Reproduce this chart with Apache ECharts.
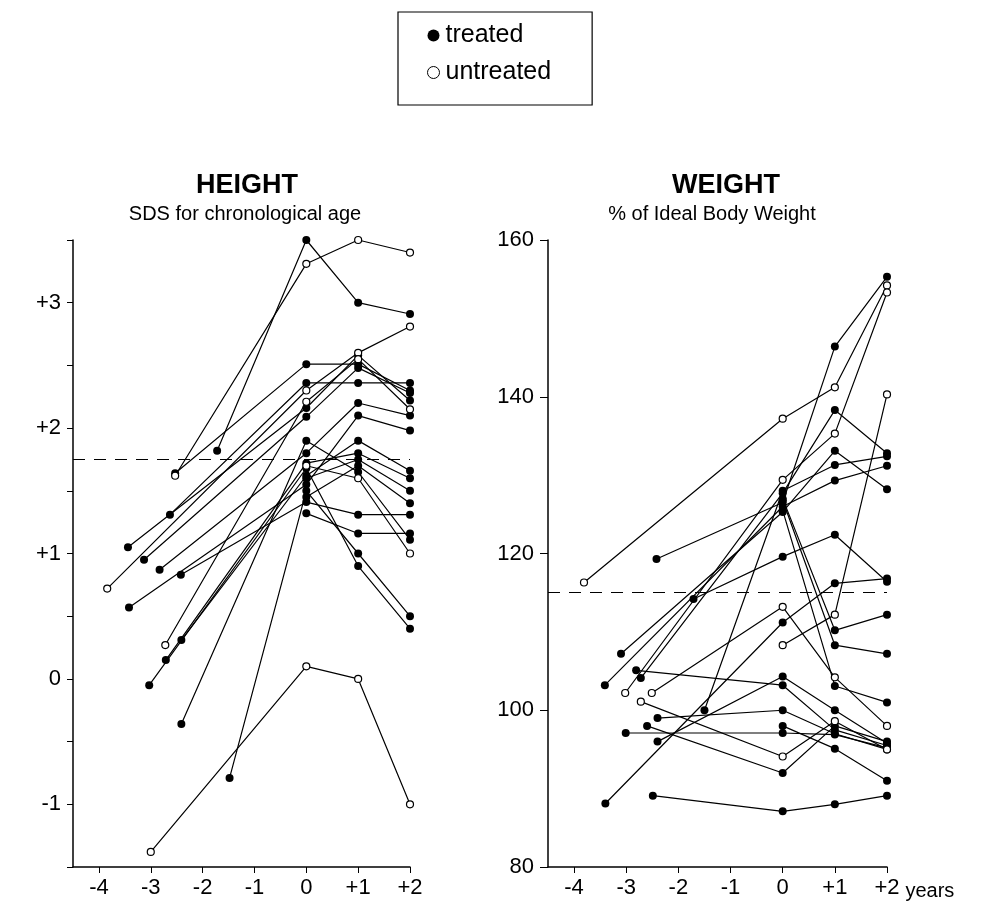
<!DOCTYPE html>
<html>
<head>
<meta charset="utf-8">
<script src="https://cdn.jsdelivr.net/npm/echarts@6/dist/echarts.min.js"></script>
<style>
  html, body { margin: 0; padding: 0; background: #fff; }
  #chart { width: 992px; height: 920px; }
</style>
</head>
<body>
<div id="chart"></div>
<script>
// years relative to start, one list of [year, value] per child
var xTicks = [-4, -3, -2, -1, 0, 1, 2];
var heightTicks = [-1, 0, 1, 2, 3];
var weightTicks = [80, 100, 120, 140, 160];
var heightCut = 1.75;
var weightCut = 115;

// HEIGHT, SDS for chronological age
var heightTreated = [
  [[-1.72, 1.82], [0, 3.50], [1, 3.00], [2, 2.91]],
  [[-2.53, 1.64], [0, 2.51], [1, 2.51], [2, 2.30]],
  [[-2.63, 1.31], [0, 2.36], [1, 2.36], [2, 2.36]],
  [[-3.44, 1.05], [0, 2.16], [1, 2.58], [2, 2.22]],
  [[-3.13, 0.95], [0, 2.09], [1, 2.48], [2, 2.28]],
  [[-2.83, 0.87], [0, 1.80], [1, 2.20], [2, 2.10]],
  [[-2.42, 0.83], [0, 1.41], [1, 1.31], [2, 1.31]],
  [[-3.42, 0.57], [0, 1.55], [1, 2.10], [2, 1.98]],
  [[-2.41, 0.31], [0, 1.62], [1, 1.90], [2, 1.66]],
  [[-2.71, 0.15], [0, 1.72], [1, 1.80], [2, 1.60]],
  [[-3.03, -0.05], [0, 1.68], [1, 0.90], [2, 0.40]],
  [[-2.41, -0.36], [0, 1.90], [1, 1.65], [2, 1.11]],
  [[-1.48, -0.79], [0, 1.50], [1, 1.00], [2, 0.50]],
  [[0, 1.32], [1, 1.16], [2, 1.16]],
  [[0, 1.60], [1, 1.75], [2, 1.50]],
  [[0, 1.45], [1, 1.70], [2, 1.40]]
];
var heightUntreated = [
  [[-2.53, 1.62], [0, 3.31], [1, 3.50], [2, 3.40]],
  [[-3.84, 0.72], [0, 2.30], [1, 2.60], [2, 2.81]],
  [[-2.72, 0.27], [0, 2.21], [1, 2.55], [2, 2.15]],
  [[0, 1.70], [1, 1.60], [2, 1.00]],
  [[-3.00, -1.38], [0, 0.10], [1, 0.00], [2, -1.00]]
];

// WEIGHT, % of ideal body weight
var weightTreated = [
  [[-2.49, 89.1], [0, 87.1], [1, 88.0], [2, 89.1]],
  [[-3.40, 88.1], [0, 111.2], [1, 116.2], [2, 116.8]],
  [[-1.71, 114.2], [0, 119.6], [1, 122.4], [2, 116.4]],
  [[-2.42, 119.3], [0, 126.5], [1, 146.4], [2, 155.3]],
  [[-3.10, 107.2], [0, 125.3], [1, 133.1], [2, 128.2]],
  [[-2.72, 104.1], [0, 127.7], [1, 138.3], [2, 132.8]],
  [[-1.50, 100.0], [0, 128.0], [1, 131.3], [2, 132.4]],
  [[-3.41, 103.2], [0, 126.0], [1, 129.3], [2, 131.2]],
  [[-2.81, 105.1], [0, 103.2], [1, 97.5], [2, 95.5]],
  [[-2.40, 99.0], [0, 100.0], [1, 97.0], [2, 95.0]],
  [[-2.60, 98.0], [0, 92.0], [1, 98.0], [2, 96.0]],
  [[-3.01, 97.1], [0, 97.1], [1, 96.9], [2, 95.2]],
  [[-2.40, 96.0], [0, 104.3], [1, 100.0], [2, 95.8]],
  [[0, 98.0], [1, 95.1], [2, 91.0]],
  [[0, 127.0], [1, 110.2], [2, 112.2]],
  [[0, 125.5], [1, 103.1], [2, 101.0]],
  [[0, 126.8], [1, 108.3], [2, 107.2]]
];
var weightUntreated = [
  [[-3.81, 116.3], [0, 137.2], [1, 141.2], [2, 154.2]],
  [[-3.02, 102.2], [0, 129.4], [1, 135.3], [2, 153.3]],
  [[-2.51, 102.2], [0, 113.2], [1, 104.2], [2, 98.0]],
  [[-2.72, 101.1], [0, 94.1], [1, 98.6], [2, 95.0]],
  [[0, 108.3], [1, 112.2], [2, 140.3]]
];

var font = "'Liberation Sans', Arial, sans-serif";
var halfSteps = [];
for (var h = -1.5; h <= 3.5; h += 0.5) halfSteps.push(h);

function signed(v) {
  return v > 0 ? '+' + v : String(v);
}

function makeSeries(list, treated, axis) {
  return list.map(function (pts) {
    return {
      name: treated ? 'treated' : 'untreated',
      type: 'line',
      xAxisIndex: axis,
      yAxisIndex: axis,
      data: pts,
      symbol: 'circle',
      symbolSize: treated ? 8 : 7,
      z: treated ? 3 : 4,
      itemStyle: treated
        ? { color: '#000' }
        : { color: '#fff', borderColor: '#000', borderWidth: 1.2 },
      lineStyle: { color: '#000', width: 1.2 },
      emphasis: { disabled: true }
    };
  });
}

function cutLine(axis, value) {
  return {
    name: 'cut' + axis,
    type: 'line',
    xAxisIndex: axis,
    yAxisIndex: axis,
    data: [],
    markLine: {
      silent: true,
      symbol: 'none',
      label: { show: false },
      lineStyle: { color: '#000', width: 1.2, type: [12, 9] },
      data: [{ yAxis: value }]
    }
  };
}

var xAxisBase = {
  type: 'value',
  min: -4.5,
  max: 2,
  splitLine: { show: false },
  axisLine: { onZero: false, lineStyle: { color: '#000', width: 1.5 } },
  axisTick: { customValues: xTicks, length: 6, lineStyle: { color: '#000' } },
  axisLabel: {
    customValues: xTicks,
    formatter: signed,
    color: '#000',
    fontSize: 22,
    fontFamily: font,
    margin: 10
  }
};

var chart = echarts.init(document.getElementById('chart'));
var option = {
  animation: false,
  backgroundColor: '#fff',
  title: [
    { text: 'HEIGHT', left: 242, top: 167, textAlign: 'center',
      textStyle: { fontSize: 27, fontWeight: 'bold', color: '#000', fontFamily: font } },
    { text: 'SDS for chronological age', left: 240, top: 199, textAlign: 'center',
      textStyle: { fontSize: 20, fontWeight: 'normal', color: '#000', fontFamily: font } },
    { text: 'WEIGHT', left: 721, top: 167, textAlign: 'center',
      textStyle: { fontSize: 27, fontWeight: 'bold', color: '#000', fontFamily: font } },
    { text: '% of Ideal Body Weight', left: 707, top: 199, textAlign: 'center',
      textStyle: { fontSize: 20, fontWeight: 'normal', color: '#000', fontFamily: font } }
  ],
  legend: {
    orient: 'vertical',
    left: 398,
    top: 12,
    padding: [11, 41, 20, 29],
    itemGap: 12,
    itemWidth: 12,
    itemHeight: 12,
    icon: 'circle',
    borderColor: '#000',
    borderWidth: 1.2,
    textStyle: { fontSize: 25, color: '#000', fontFamily: font, padding: [0, 0, 0, 1] },
    data: [
      { name: 'treated', itemStyle: { color: '#000' } },
      { name: 'untreated', itemStyle: { color: '#fff', borderColor: '#000', borderWidth: 1 } }
    ]
  },
  grid: [
    { left: 73, top: 240, width: 337, height: 627 },
    { left: 548, top: 240, width: 339, height: 627 }
  ],
  xAxis: [
    Object.assign({ gridIndex: 0 }, xAxisBase),
    Object.assign({ gridIndex: 1 }, xAxisBase, {
      name: 'years',
      nameLocation: 'end',
      nameGap: 14,
      nameTextStyle: { fontSize: 20, color: '#000', fontFamily: font, verticalAlign: 'top', padding: [14, 0, 0, 0] }
    })
  ],
  yAxis: [
    {
      gridIndex: 0,
      type: 'value',
      min: -1.5,
      max: 3.5,
      splitLine: { show: false },
      axisLine: { show: true, onZero: false, lineStyle: { color: '#000', width: 1.5 } },
      axisTick: { show: true, customValues: halfSteps, length: 6, lineStyle: { color: '#000' } },
      axisLabel: {
        customValues: heightTicks,
        formatter: signed,
        color: '#000',
        fontSize: 22,
        fontFamily: font,
        margin: 12
      }
    },
    {
      gridIndex: 1,
      type: 'value',
      min: 80,
      max: 160,
      interval: 20,
      splitLine: { show: false },
      axisLine: { show: true, onZero: false, lineStyle: { color: '#000', width: 1.5 } },
      axisTick: { show: true, customValues: weightTicks, length: 8, lineStyle: { color: '#000' } },
      axisLabel: {
        customValues: weightTicks,
        color: '#000',
        fontSize: 22,
        fontFamily: font,
        margin: 14
      }
    }
  ],
  series: []
    .concat(makeSeries(heightTreated, true, 0))
    .concat(makeSeries(heightUntreated, false, 0))
    .concat(makeSeries(weightTreated, true, 1))
    .concat(makeSeries(weightUntreated, false, 1))
    .concat([cutLine(0, heightCut), cutLine(1, weightCut)])
};
chart.setOption(option);
</script>
</body>
</html>
